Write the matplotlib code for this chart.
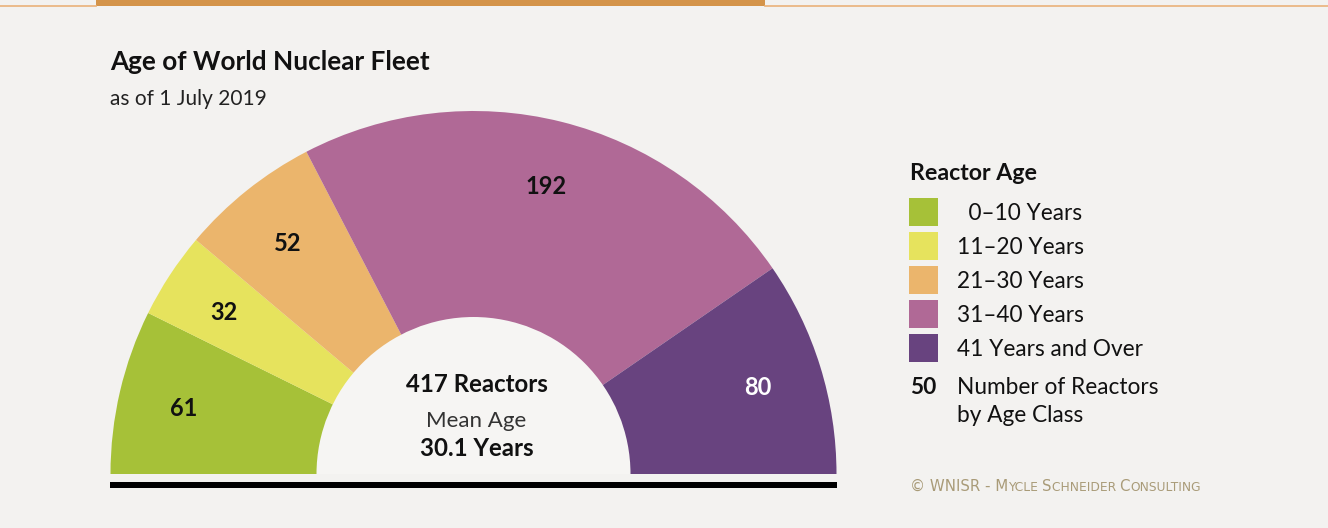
import numpy as np
import matplotlib.pyplot as plt
from matplotlib.patches import Wedge, Rectangle

plt.rcParams['font.family'] = ['Lato', 'DejaVu Sans']

# data
age_classes = ['  0\u201310 Years', '11\u201320 Years', '21\u201330 Years', '31\u201340 Years', '41 Years and Over']
reactor_counts = [61, 32, 52, 192, 80]
class_colors = ['#a6c138', '#e6e35d', '#ebb56c', '#b06996', '#68437f']
label_colors = ['#111111', '#111111', '#111111', '#111111', '#ffffff']
mean_age = 30.1

title = 'Age of World Nuclear Fleet'
subtitle = 'as of 1 July 2019'
# small caps credit: (text, is_cap)
credit_parts = [('\u00a9 WNISR - M', True), ('YCLE ', False), ('S', True), ('CHNEIDER ', False),
                ('C', True), ('ONSULTING', False)]

W, H = 1328, 528
bg = '#f3f2f0'
fig = plt.figure(figsize=(W / 100, H / 100), dpi=100, facecolor=bg)
ax = fig.add_axes([0, 0, 1, 1])
ax.set_xlim(0, W)
ax.set_ylim(0, H)
ax.axis('off')

def py(y):
    # pixel row -> axes y
    return H - y

# header strip
ax.add_patch(Rectangle((96, py(6)), 669, 6, color='#d4944a', lw=0))
ax.plot([765, W], [py(6), py(6)], color='#eab27a', lw=1.2)
ax.plot([0, 96], [py(6), py(6)], color='#eab27a', lw=1.2)

# title
ax.text(110, py(62), title, fontsize=18.8, fontweight='bold', color='#111111', va='center')
ax.text(110, py(99), subtitle, fontsize=15, color='#222222', va='center')

# half donut
cx, cy = 473.5, py(474)
r_out, r_in = 363, 157
total = sum(reactor_counts)
angles = np.array(reactor_counts) / total * 180.0
start = 180.0
for n, a, c, lc in zip(reactor_counts, angles, class_colors, label_colors):
    ax.add_patch(Wedge((cx, cy), r_out, start - a, start, color=c, lw=0))
    mid = np.deg2rad(start - a / 2)
    ax.text(cx + 298 * np.cos(mid), cy + 298 * np.sin(mid) - 2, str(n),
            fontsize=17, fontweight='bold', color=lc, ha='center', va='center')
    start -= a
ax.add_patch(Wedge((cx, cy), r_in, 0, 180, color='#f6f5f3', lw=0))

ax.text(cx + 3, py(385), f'{total} Reactors', fontsize=17.3, fontweight='bold', color='#111111', ha='center', va='center')
ax.text(cx + 3, py(421), 'Mean Age', fontsize=16, color='#333333', ha='center', va='center')
ax.text(cx + 3, py(449), f'{mean_age} Years', fontsize=17.3, fontweight='bold', color='#111111', ha='center', va='center')

# base bar
ax.add_patch(Rectangle((110, py(488)), 727, 6, color='#000000', lw=0))

# legend
ax.text(910, py(174), 'Reactor Age', fontsize=16.7, fontweight='bold', color='#111111', va='center')
for i, (lab, c) in enumerate(zip(age_classes, class_colors)):
    yc = 212 + 34 * i
    ax.add_patch(Rectangle((909, py(yc + 14)), 29, 28, color=c, lw=0))
    ax.text(957, py(yc + 1), lab, fontsize=16.3, color='#111111', va='center')
ax.text(910, py(388), '50', fontsize=16.3, fontweight='bold', color='#111111', va='center')
ax.text(957, py(388), 'Number of Reactors', fontsize=16.3, color='#111111', va='center')
ax.text(957, py(416), 'by Age Class', fontsize=16.3, color='#111111', va='center')

# credit in small caps
prev = None
for txt, cap in credit_parts:
    fs = 10.8 if cap else 8.8
    if prev is None:
        prev = ax.text(910, py(491), txt, fontsize=fs, color='#a99b78', va='baseline',
                       family='DejaVu Sans')
    else:
        prev = ax.annotate(txt, xy=(1, 0), xycoords=prev, xytext=(0, 0), textcoords='offset points',
                           fontsize=fs, color='#a99b78', va='bottom', ha='left', family='DejaVu Sans')

fig.savefig('out.png', dpi=100, facecolor=bg)
